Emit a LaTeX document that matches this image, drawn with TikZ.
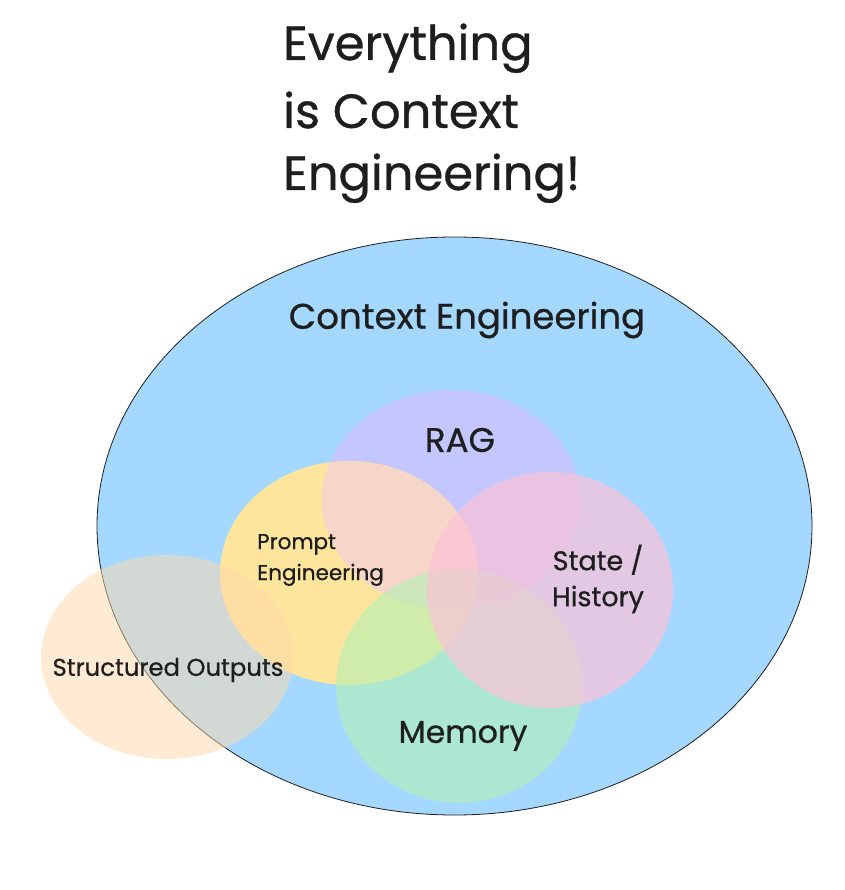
\documentclass[tikz,border=0pt]{standalone}
\usepackage{fontspec}
\setmainfont{Poppins}[FakeBold=0.7]
\usetikzlibrary{shapes.geometric}
\definecolor{ink}{RGB}{30,30,30}
\definecolor{ctxblue}{RGB}{165,216,255}
\definecolor{ragc}{RGB}{208,191,255}
\definecolor{promptc}{RGB}{253,229,157}
\definecolor{mixc}{RGB}{246,214,200}
\definecolor{memc}{RGB}{178,242,180}
\definecolor{statec}{RGB}{252,194,215}
\definecolor{structc}{RGB}{255,216,168}
\tikzset{
  blob/.style={ellipse, inner sep=0pt, draw=none},
  lbl/.style={text=ink, inner sep=0pt},
}
\begin{document}
\begin{tikzpicture}[x=1pt,y=-1pt]
\fill[white] (0,0) rectangle (844,890);
\useasboundingbox (0,0) rectangle (844,890);
% title
\node[lbl, anchor=base west, font=\fontsize{48}{50}\selectfont] (t1) at (283,60) {Everything};
\node[lbl, anchor=base west, font=\fontsize{48}{50}\selectfont] (t2) at (283,128) {is Context};
\node[lbl, anchor=base west, font=\fontsize{48}{50}\selectfont] (t3) at (283,190) {Engineering!};
% context ellipse
\node[blob, fill=ctxblue, draw=ink, line width=0.8pt, minimum width=715pt, minimum height=578pt] (ctx) at (454.5,526) {};
% RAG
\node[blob, fill=ragc, fill opacity=0.7, minimum width=258pt, minimum height=220pt] (rag) at (451,500) {};
% Prompt
\node[blob, fill=promptc, minimum width=258pt, minimum height=224pt] (prompt) at (349,573) {};
\begin{scope}
  \clip (349,573) ellipse [x radius=129pt, y radius=112pt];
  \fill[mixc] (451,500) ellipse [x radius=129pt, y radius=110pt];
\end{scope}
% Memory
\node[blob, fill=memc, fill opacity=0.6, minimum width=246pt, minimum height=234pt] (mem) at (459,686) {};
% State
\node[blob, fill=statec, fill opacity=0.7, minimum width=246pt, minimum height=236pt] (state) at (550,590) {};
% Structured
\node[blob, fill=structc, fill opacity=0.5, minimum width=252pt, minimum height=204pt] (struct) at (167,657) {};
% labels
\node[lbl, font=\fontsize{35.5}{40}\selectfont] (lctx) at (467,320) {Context Engineering};
\node[lbl, font=\fontsize{34}{40}\selectfont] (lrag) at (460,440) {RAG};
\node[lbl, anchor=west, align=left, font=\fontsize{21.5}{31}\selectfont] (lprompt) at (257,560) {Prompt\\Engineering};
\node[lbl, align=center, font=\fontsize{27}{36}\selectfont] (lstate) at (598,579) {State /\\History};
\node[lbl, font=\fontsize{31.5}{40}\selectfont] (lmem) at (463,736) {Memory};
\node[lbl, font=\fontsize{24.3}{28}\selectfont] (lstruct) at (168,670) {Structured Outputs};
\end{tikzpicture}
\end{document}
